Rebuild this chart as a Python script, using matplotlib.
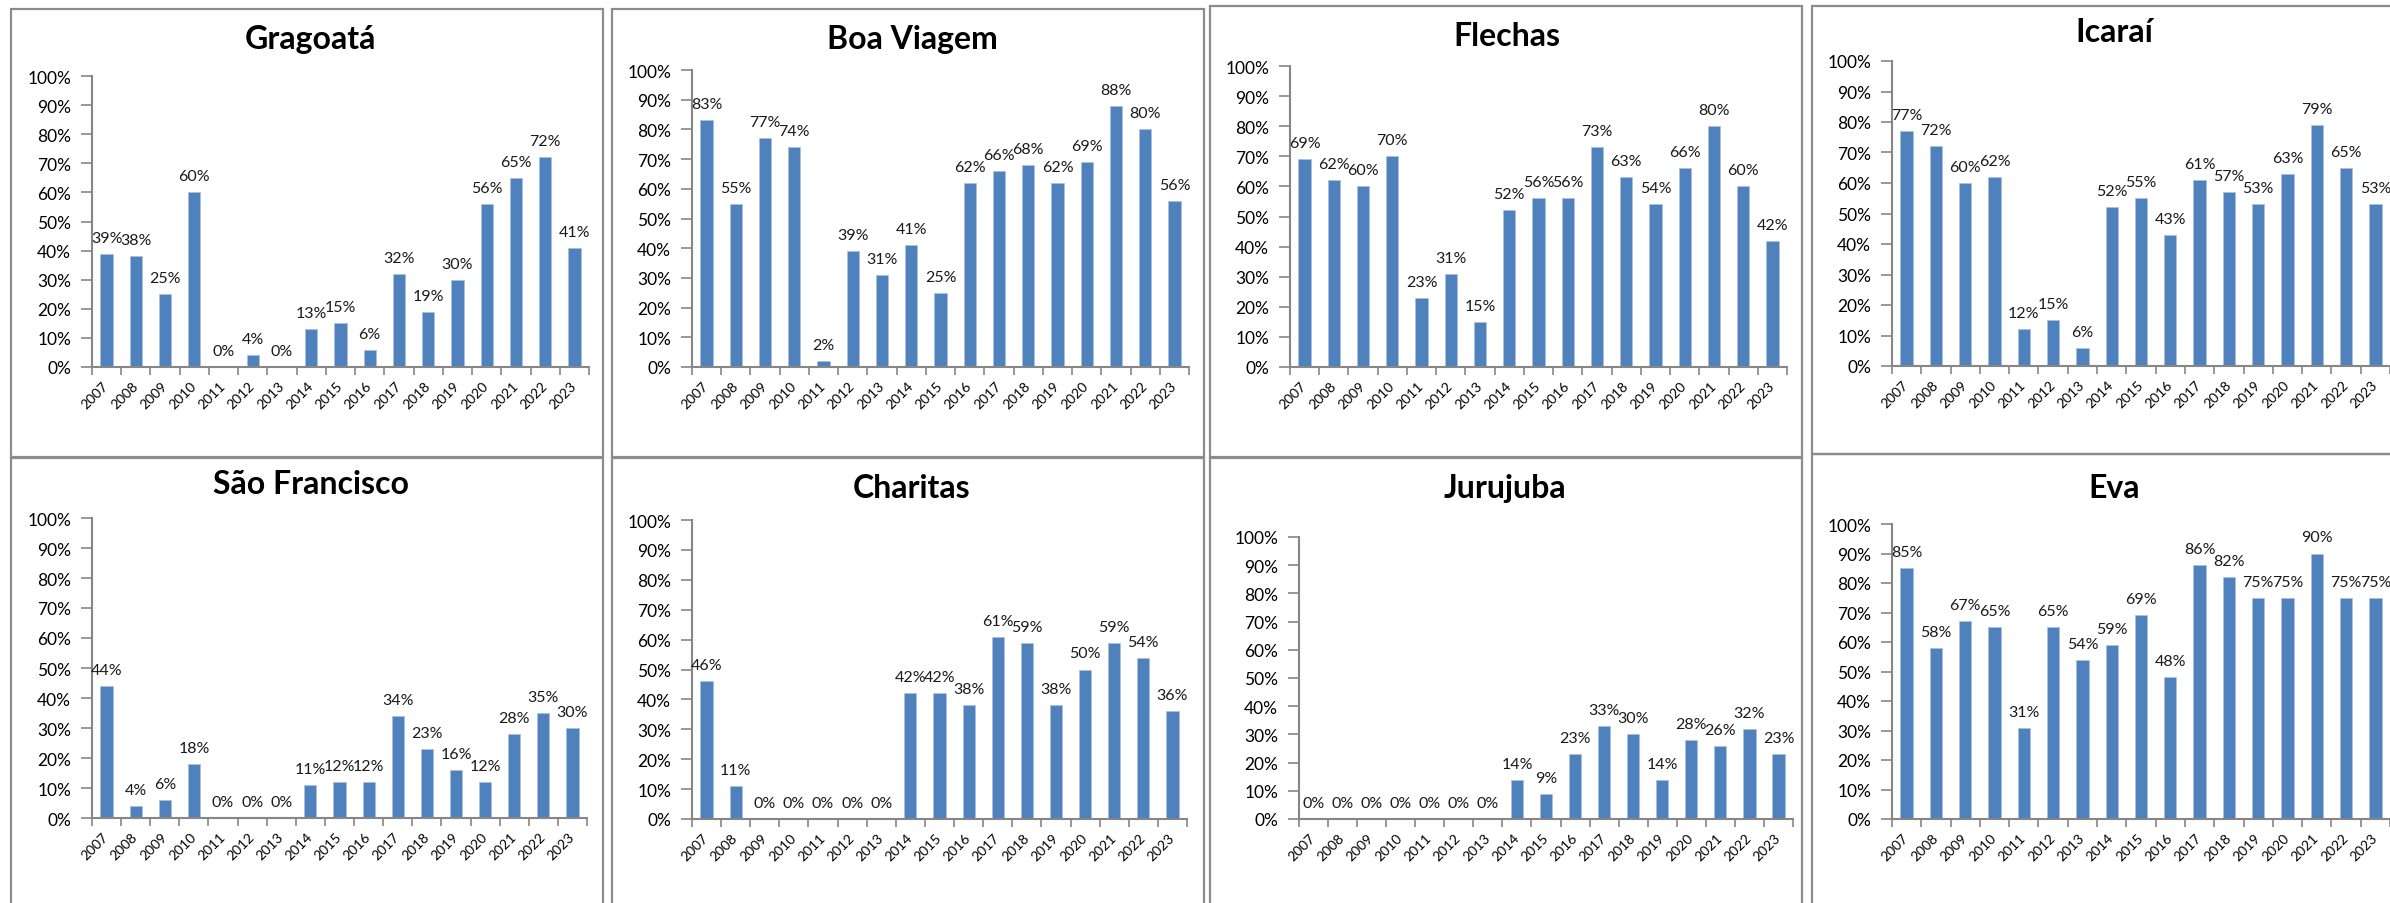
import matplotlib
matplotlib.use("Agg")
import matplotlib.pyplot as plt
from matplotlib.patches import Rectangle
from matplotlib.ticker import FixedLocator, PercentFormatter
import numpy as np

plt.rcParams['font.family'] = ['Lato', 'DejaVu Sans']

# dados (percentual por ano)
anos = ["2007", "2008", "2009", "2010", "2011", "2012", "2013", "2014", "2015",
        "2016", "2017", "2018", "2019", "2020", "2021", "2022", "2023"]

nomes = ["Gragoatá", "Boa Viagem", "Flechas", "Icaraí",
         "São Francisco", "Charitas", "Jurujuba", "Eva"]

gragoata = [39, 38, 25, 60, 0, 4, 0, 13, 15, 6, 32, 19, 30, 56, 65, 72, 41]
boa_viagem = [83, 55, 77, 74, 2, 39, 31, 41, 25, 62, 66, 68, 62, 69, 88, 80, 56]
flechas = [69, 62, 60, 70, 23, 31, 15, 52, 56, 56, 73, 63, 54, 66, 80, 60, 42]
icarai = [77, 72, 60, 62, 12, 15, 6, 52, 55, 43, 61, 57, 53, 63, 79, 65, 53]
sao_francisco = [44, 4, 6, 18, 0, 0, 0, 11, 12, 12, 34, 23, 16, 12, 28, 35, 30]
charitas = [46, 11, 0, 0, 0, 0, 0, 42, 42, 38, 61, 59, 38, 50, 59, 54, 36]
jurujuba = [0, 0, 0, 0, 0, 0, 0, 14, 9, 23, 33, 30, 14, 28, 26, 32, 23]
eva = [85, 58, 67, 65, 31, 65, 54, 59, 69, 48, 86, 82, 75, 75, 90, 75, 75]

series = [gragoata, boa_viagem, flechas, icarai,
          sao_francisco, charitas, jurujuba, eva]

# layout em pixels (figura 2390 x 904)
W, H = 2390, 904
# moldura de cada painel: esquerda, topo, direita, base
molduras = [(11, 10, 603, 458), (612, 10, 1204, 458), (1210, 7, 1802, 458), (1812, 7, 2416, 455),
            (11, 459, 603, 960), (612, 459, 1204, 960), (1210, 459, 1802, 960), (1812, 455, 2416, 960)]
# area do grafico: x eixo y, y do 100%, x fim do eixo, y do 0%
areas = [(92, 77, 589, 368), (692, 71, 1189, 368), (1290, 67, 1787, 368), (1892, 62, 2390, 367),
         (92, 519, 587, 819), (692, 521, 1187, 820), (1299, 538, 1793, 820), (1892, 525, 2390, 820)]
titulos_pos = [(310, 40), (912, 40), (1507, 37), (2114, 33),
               (311, 485), (912, 489), (1505, 489), (2114, 489)]

cinza = '#868686'
azul = '#4F81BD'

fig = plt.figure(figsize=(W / 100, H / 100), dpi=100)

for k in range(8):
    l, t, r, b = molduras[k]
    fig.patches.append(Rectangle((l / W, 1 - b / H), (r - l) / W, (b - t) / H,
                                 transform=fig.transFigure, fill=False,
                                 edgecolor='#8c8c8c', linewidth=1.6, zorder=0))
    x0, y0, x1, y1 = areas[k]
    ax = fig.add_axes([x0 / W, 1 - y1 / H, (x1 - x0) / W, (y1 - y0) / H])
    vals = np.array(series[k]) / 100
    xs = np.arange(len(anos))
    ax.bar(xs, vals, width=0.42, color=azul, edgecolor='#a9c0df', linewidth=0.5)
    for i, v in enumerate(series[k]):
        ax.annotate(f"{v}%", (i, v / 100), xytext=(0, 9), textcoords='offset pixels',
                    ha='center', va='bottom', fontsize=11.5, color='#1a1a1a')
    ax.set_xlim(-0.5, len(anos) - 0.5)
    ax.set_ylim(0, 1)
    ax.yaxis.set_major_locator(FixedLocator(np.arange(0, 1.01, 0.1)))
    ax.yaxis.set_major_formatter(PercentFormatter(1.0, decimals=0))
    ax.set_xticks(xs)
    ax.set_xticklabels(anos, rotation=45, ha='right', va='center', rotation_mode='anchor', fontsize=10)
    ax.xaxis.set_minor_locator(FixedLocator(np.arange(-0.5, len(anos), 1)))
    ax.tick_params(axis='x', which='major', length=0, pad=12)
    ax.tick_params(axis='x', which='minor', length=6, width=1.2, color=cinza, direction='out')
    ax.tick_params(axis='y', length=8, width=1.2, color=cinza, direction='out', labelsize=12.5, pad=7)
    for s in ['top', 'right']:
        ax.spines[s].set_visible(False)
    for s in ['left', 'bottom']:
        ax.spines[s].set_color(cinza)
        ax.spines[s].set_linewidth(1.5)
    ax.patch.set_alpha(0)
    tx, ty = titulos_pos[k]
    fig.text(tx / W, 1 - ty / H, nomes[k], ha='center', va='center',
             fontsize=23, fontweight='bold')

fig.savefig("out.png", dpi=100)
